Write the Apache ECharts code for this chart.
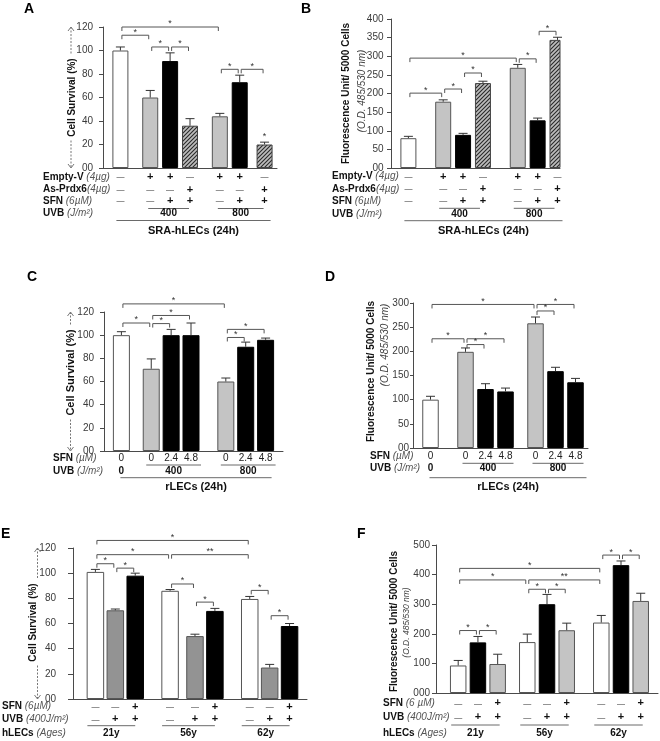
<!DOCTYPE html>
<html><head><meta charset="utf-8">
<script src="https://cdn.jsdelivr.net/npm/echarts@6/dist/echarts.min.js"></script>
<style>html,body{margin:0;padding:0;background:#fff}#c{width:660px;height:741px}</style>
</head><body><div id="c"></div>
<script>
const FONT = '"Liberation Sans", Arial, Helvetica, sans-serif';

// ================= DATA =================
// Panel A  (SRA-hLECs, cell survival %)
const aValues = [100, 60, 91, 36, 44, 73, 20];
const aErrors = [3, 6, 7, 6, 2.5, 6, 2];
const aEmptyV = ['-', '+', '+', '-', '+', '+', '-'];
const aAsPrdx6 = ['-', '-', '-', '+', '-', '-', '+'];
const aSFN = ['-', '-', '+', '+', '-', '+', '+'];
const aUVBLabels = ['400', '800'];
const aUVBBars = [[1, 3], [4, 6]];
const aBrackets = [[0, 4, 120, '*'], [0, 1, 113, '*'], [1, 2, 103, '*'], [2, 3, 103, '*'], [4, 5, 84, '*'], [5, 6, 84, '*']];
const aBarStars = [[6, '*']];
const aYTicks = ['00', '20', '40', '60', '80', '100', '120'];

// Panel B  (SRA-hLECs, fluorescence)
const bValues = [80, 178, 89, 228, 269, 128, 344];
const bErrors = [5, 5, 4, 5, 9, 6, 7];
const bEmptyV = ['-', '+', '+', '-', '+', '+', '-'];
const bAsPrdx6 = ['-', '-', '-', '+', '-', '-', '+'];
const bSFN = ['-', '-', '+', '+', '-', '+', '+'];
const bUVBLabels = ['400', '800'];
const bUVBBars = [[1, 3], [4, 6]];
const bBrackets = [[0, 4, 295, '*'], [0, 1, 201, '*'], [1, 2, 212, '*'], [2, 3, 255, '*'], [4, 5, 293, '*'], [5, 6, 367, '*']];
const bYTicks = ['00', '50', '100', '150', '200', '250', '300', '350', '400'];

// Panel C  (rLECs, cell survival %)
const cValues = [100, 71, 100, 100, 60, 90, 96];
const cErrors = [3, 8.5, 5, 10.5, 3, 4, 1.5];
const cSFN = ['0', '0', '2.4', '4.8', '0', '2.4', '4.8'];
const cUVBLabels = ['0', '400', '800'];
const cUVBBars = [[0, 0], [1, 3], [4, 6]];
const cBrackets = [[0, 4, 127, '*'], [0, 1, 110.5, '*'], [1, 3, 117, '*'], [1, 2, 110, '*'], [4, 6, 105, '*'], [4, 5, 98, '*']];
const cYTicks = ['00', '20', '40', '60', '80', '100', '120'];

// Panel D  (rLECs, fluorescence)
const dValues = [100, 199, 122, 117, 258, 159, 136];
const dErrors = [7, 8, 11, 7, 13, 8, 8];
const dSFN = ['0', '0', '2.4', '4.8', '0', '2.4', '4.8'];
const dUVBLabels = ['0', '400', '800'];
const dUVBBars = [[0, 0], [1, 3], [4, 6]];
const dBrackets = [[0, 4, 297, '*'], [0, 1, 226, '*'], [1, 3, 226, '*'], [1, 2, 214, '*'], [4, 6, 297, '*'], [4, 5, 283.5, '*']];
const dYTicks = ['00', '50', '100', '150', '200', '250', '300'];

// Panel E  (hLECs by age, cell survival %)
const eValues = [101, 70.5, 98, 86, 50, 70, 79.5, 25, 58];
const eErrors = [2, 1, 2, 1, 1.5, 2, 2, 2.5, 2];
const eSFN = ['-', '-', '+', '-', '-', '+', '-', '-', '+'];
const eUVB = ['-', '+', '+', '-', '+', '+', '-', '+', '+'];
const eAges = ['21y', '56y', '62y'];
const eAgeBars = [[0, 2], [3, 5], [6, 8]];
const eBrackets = [[0, 6, 126, '*'], [0, 3, 114.7, '*'], [3, 6, 114.7, '**'], [0, 1, 107.5, '*'], [1, 2, 104, '*'], [3, 4, 91.4, '*'], [4, 5, 77, '*'], [6, 7, 86.3, '*'], [7, 8, 66.2, '*']];
const eYTicks = ['00', '20', '40', '60', '80', '100', '120'];

// Panel F  (hLECs by age, fluorescence)
const fValues = [93, 171, 98, 172, 300, 212, 238, 432, 311];
const fErrors = [17, 20, 33, 27, 33, 24, 24, 14, 26];
const fSFN = ['-', '-', '+', '-', '-', '+', '-', '-', '+'];
const fUVB = ['-', '+', '+', '-', '+', '+', '-', '+', '+'];
const fAges = ['21y', '56y', '62y'];
const fAgeBars = [[0, 2], [3, 5], [6, 8]];
const fBrackets = [[0, 6, 421, '*'], [0, 3, 382, '*'], [3, 6, 382, '**'], [3, 4, 350.5, '*'], [4, 5, 350.5, '*'], [0, 1, 211, '*'], [1, 2, 211, '*'], [6, 7, 466, '*'], [7, 8, 466, '*']];
const fYTicks = ['000', '100', '200', '300', '400', '500'];

// ================= STYLE / LAYOUT =================
const hc = document.createElement('canvas'); hc.width = 4; hc.height = 4;
(function () {
  const g = hc.getContext('2d');
  g.fillStyle = '#bdbdbd'; g.fillRect(0, 0, 4, 4);
  g.strokeStyle = '#2a2a2a'; g.lineWidth = 1.1; g.beginPath();
  g.moveTo(-1, 5); g.lineTo(5, -1); g.moveTo(-1, 1); g.lineTo(1, -1); g.moveTo(3, 5); g.lineTo(5, 3);
  g.stroke();
})();
const FILLS = {
  white: { color: '#ffffff', borderColor: '#555', borderWidth: 1 },
  light: { color: '#c4c4c4', borderColor: '#555', borderWidth: 1 },
  dark: { color: '#939393', borderColor: '#555', borderWidth: 1 },
  black: { color: '#000000', borderColor: '#000', borderWidth: 1 },
  hatch: { color: { image: hc, repeat: 'repeat' }, borderColor: '#444', borderWidth: 1 }
};
const fluoTitle = (x1, y1, x2, y2, s2) => [
  { text: 'Fluorescence Unit/ 5000 Cells', x: x1, y: y1, bold: true, size: 10 },
  { text: '(O.D. 485/530 nm)', x: x2, y: y2, italic: true, size: s2 }
];

const panels = [
  {
    letter: { text: 'A', x: 24, y: 2 },
    grid: { left: 103, top: 27, width: 174, height: 141 },
    nSlots: 35, slots: [3, 9, 13, 17, 23, 27, 32], barWidth: 16,
    values: aValues, errors: aErrors, fills: ['white', 'light', 'black', 'hatch', 'light', 'black', 'hatch'],
    yMax: 120, yStep: 20, yTicks: aYTicks, labelMargin: 10, tickLen: 4,
    brackets: aBrackets, barStars: aBarStars, rowLabelX: 43,
    rows: [
      { label: ['Empty-V', '(4µg)'], dy: 9, cells: aEmptyV },
      { label: ['As-Prdx6', '(4µg)'], tight: true, dy: 21.5, cells: aAsPrdx6 },
      { label: ['SFN', '(6µM)'], dy: 33, cells: aSFN },
      { label: ['UVB', '(J/m²)'], dy: 45.5 }
    ],
    groups: { labels: aUVBLabels, bars: aUVBBars, lineDy: 40.5, labelDy: 45.5, extL: 2, extR: -1 },
    footer: { text: 'SRA-hLECs (24h)', lineDy: 52.5, labelDy: 62.5, extL: 4, extR: 6 },
    yTitle: [{ text: 'Cell Survival (%)', x: 72, y: 97.5, bold: true, size: 10 }],
    arrow: { x: 71, cy: 97.5, half: 43 }
  },
  {
    letter: { text: 'B', x: 301, y: 2 },
    grid: { left: 391, top: 19, width: 169, height: 149 },
    nSlots: 34, slots: [3, 10, 14, 18, 25, 29, 33], barWidth: 16,
    values: bValues, errors: bErrors, fills: ['white', 'light', 'black', 'hatch', 'light', 'black', 'hatch'],
    yMax: 400, yStep: 50, yTicks: bYTicks, labelMargin: 7.5, tickLen: 4,
    brackets: bBrackets, barStars: [], rowLabelX: 332,
    rows: [
      { label: ['Empty-V', '(4µg)'], dy: 8.7, cells: bEmptyV },
      { label: ['As-Prdx6', '(4µg)'], tight: true, dy: 21.2, cells: bAsPrdx6 },
      { label: ['SFN', '(6µM)'], dy: 33.2, cells: bSFN },
      { label: ['UVB', '(J/m²)'], dy: 46 }
    ],
    groups: { labels: bUVBLabels, bars: bUVBBars, lineDy: 40.3, labelDy: 46, extL: 4, extR: -3 },
    footer: { text: 'SRA-hLECs (24h)', lineDy: 52.7, labelDy: 63, extL: 4, extR: 5 },
    yTitle: fluoTitle(346, 93.5, 362, 91, 10)
  },
  {
    letter: { text: 'C', x: 27, y: 270.5 },
    grid: { left: 104, top: 312, width: 179, height: 139 },
    nSlots: 36, slots: [3, 9, 13, 17, 24, 28, 32], barWidth: 17,
    values: cValues, errors: cErrors, fills: ['white', 'light', 'black', 'black', 'light', 'black', 'black'],
    yMax: 120, yStep: 20, yTicks: cYTicks, labelMargin: 10, tickLen: 4,
    brackets: cBrackets, barStars: [], rowLabelX: 53,
    rows: [
      { label: ['SFN', '(µM)'], dy: 6.8, cells: cSFN },
      { label: ['UVB', '(J/m²)'], dy: 19.8 }
    ],
    groups: { labels: cUVBLabels, bars: cUVBBars, lineDy: 14, labelDy: 19.8, extL: 5, extR: 10 },
    footer: { text: 'rLECs (24h)', lineDy: 26.7, labelDy: 35.7, extL: 1, extR: 6 },
    yTitle: [{ text: 'Cell Survival (%)', x: 71, y: 372.5, bold: true, size: 11 }],
    arrow: { x: 70.5, cy: 372.5, half: 47 }
  },
  {
    letter: { text: 'D', x: 325, y: 270.5 },
    grid: { left: 413, top: 303, width: 175, height: 145 },
    nSlots: 35, slots: [3, 10, 14, 18, 24, 28, 32], barWidth: 16.5,
    values: dValues, errors: dErrors, fills: ['white', 'light', 'black', 'black', 'light', 'black', 'black'],
    yMax: 300, yStep: 50, yTicks: dYTicks, labelMargin: 4, tickLen: 3,
    brackets: dBrackets, barStars: [], rowLabelX: 370,
    rows: [
      { label: ['SFN', '(µM)'], dy: 8.7, cells: dSFN },
      { label: ['UVB', '(J/m²)'], dy: 20.3 }
    ],
    groups: { labels: dUVBLabels, bars: dUVBBars, lineDy: 15.3, labelDy: 20.3, extL: 3, extR: 8 },
    footer: { text: 'rLECs (24h)', lineDy: 29.7, labelDy: 39.3, extL: 1, extR: 11 },
    yTitle: fluoTitle(371.7, 371.5, 385, 345, 10)
  },
  {
    letter: { text: 'E', x: 1, y: 527 },
    grid: { left: 73, top: 548, width: 234, height: 151 },
    nSlots: 47, slots: [4, 8, 12, 19, 24, 28, 35, 39, 43], barWidth: 17.5,
    values: eValues, errors: eErrors, fills: ['white', 'dark', 'black', 'white', 'dark', 'black', 'white', 'dark', 'black'],
    yMax: 120, yStep: 20, yTicks: eYTicks, labelMargin: 17, tickLen: 5,
    brackets: eBrackets, barStars: [], rowLabelX: 2,
    rows: [
      { label: ['SFN', '(6µM)'], dy: 7.7, cells: eSFN },
      { label: ['UVB', '(400J/m²)'], dy: 20.3, cells: eUVB },
      { label: ['hLECs', '(Ages)'], dy: 34.3 }
    ],
    groups: { labels: eAges, bars: eAgeBars, lineDy: 26.7, labelDy: 34.3, extL: 8, extR: 0 },
    yTitle: [{ text: 'Cell Survival (%)', x: 33, y: 622.5, bold: true, size: 10 }],
    arrow: { x: 37.5, cy: 622.5, half: 43 }
  },
  {
    letter: { text: 'F', x: 357, y: 527 },
    grid: { left: 436, top: 545, width: 222, height: 148 },
    nSlots: 45, slots: [4, 8, 12, 18, 22, 26, 33, 37, 41], barWidth: 16.5,
    values: fValues, errors: fErrors, fills: ['white', 'black', 'light', 'white', 'black', 'light', 'white', 'black', 'light'],
    yMax: 500, yStep: 100, yTicks: fYTicks, labelMargin: 6, tickLen: 4,
    brackets: fBrackets, barStars: [], rowLabelX: 383,
    rows: [
      { label: ['SFN', '(6 µM)'], dy: 10.3, cells: fSFN },
      { label: ['UVB', '(400J/m²)'], dy: 24.3, cells: fUVB },
      { label: ['hLECs', '(Ages)'], dy: 40.3 }
    ],
    groups: { labels: fAges, bars: fAgeBars, lineDy: 32, labelDy: 40.3, extL: 7, extR: 2 },
    yTitle: fluoTitle(394.3, 621.5, 406.7, 622.5, 8.5)
  }
];

// ================= BUILD =================
const option = { animation: false, backgroundColor: '#fff', grid: [], xAxis: [], yAxis: [], series: [] };

function annot(P) {
  return function (params, api) {
    const X = i => api.coord([P.slots[i], 0])[0];
    const y0 = api.coord([0, 0])[1];
    const yT = api.coord([0, P.yMax])[1];
    const ch = [];
    const T = (x, y, text, o) => ch.push({ type: 'text', x: x, y: y, rotation: (o && o.rot) || 0, silent: true,
      style: Object.assign({ text: text, fill: '#111', fontSize: 10, fontFamily: FONT, align: 'center', verticalAlign: 'middle' }, o || {}) });
    const L = (x1, y1, x2, y2, o) => ch.push({ type: 'line', silent: true, shape: { x1: x1, y1: y1, x2: x2, y2: y2 },
      style: Object.assign({ stroke: '#6a6a6a', lineWidth: 1 }, o || {}) });

    // panel letter
    T(P.letter.x, P.letter.y, P.letter.text, { fontSize: 14, fontWeight: 'bold', align: 'left', verticalAlign: 'top', fill: '#000' });

    // y titles
    P.yTitle.forEach(t => T(t.x, t.y, t.text, { rot: Math.PI / 2, fontSize: t.size, fontWeight: t.bold ? 'bold' : 'normal',
      fontStyle: t.italic ? 'italic' : 'normal', fill: t.italic ? '#444' : '#111' }));
    if (P.arrow) {
      const a = P.arrow, ds = { stroke: '#777', lineWidth: 1, lineDash: [2, 1.5] };
      L(a.x, yT, a.x, a.cy - a.half, ds);
      L(a.x, a.cy + a.half, a.x, y0, ds);
      ch.push({ type: 'polyline', silent: true, shape: { points: [[a.x - 3, yT + 4], [a.x, yT], [a.x + 3, yT + 4]] }, style: { stroke: '#777', lineWidth: 1, fill: 'none' } });
      ch.push({ type: 'polyline', silent: true, shape: { points: [[a.x - 3, y0 - 4], [a.x, y0], [a.x + 3, y0 - 4]] }, style: { stroke: '#777', lineWidth: 1, fill: 'none' } });
    }

    // treatment rows
    P.rows.forEach(r => {
      const y = y0 + r.dy;
      T(P.rowLabelX, y, '{b|' + r.label[0] + '}' + (r.tight ? '' : ' ') + '{i|' + r.label[1] + '}', {
        align: 'left', rich: {
          b: { fontWeight: 'bold', fontSize: 10, fontFamily: FONT, fill: '#111' },
          i: { fontStyle: 'italic', fontSize: 10, fontFamily: FONT, fill: '#555' }
        }
      });
      if (r.cells) r.cells.forEach((c, i) => {
        if (c === '-') T(X(i), y, '—', { fontSize: 8, fill: '#222' });
        else if (c === '+') T(X(i), y, '+', { fontSize: 11, fontWeight: 'bold', fill: '#111' });
        else T(X(i), y, c, { fontSize: 10, fill: '#222' });
      });
    });

    // dose / age groups
    const G = P.groups;
    G.labels.forEach((lab, k) => {
      const xa = X(G.bars[k][0]), xb = X(G.bars[k][1]);
      const x1 = xa - G.extL, x2 = xb + G.extR;
      if (G.bars[k][0] !== G.bars[k][1]) L(x1, y0 + G.lineDy, x2, y0 + G.lineDy);
      T(G.bars[k][0] !== G.bars[k][1] ? (x1 + x2) / 2 : xa, y0 + G.labelDy, lab, { fontWeight: 'bold', fontSize: 10 });
    });

    // footer (cell line)
    if (P.footer) {
      const F = P.footer;
      const x1 = X(0) - F.extL, x2 = X(P.values.length - 1) + F.extR;
      L(x1, y0 + F.lineDy, x2, y0 + F.lineDy);
      T((x1 + x2) / 2, y0 + F.labelDy, F.text, { fontWeight: 'bold', fontSize: 11 });
    }

    // stars above single bars
    P.barStars.forEach(s => {
      const p = api.coord([P.slots[s[0]], P.values[s[0]] + P.errors[s[0]]]);
      T(p[0], p[1] - 6, s[1], { fontSize: 9, fill: '#333' });
    });
    return { type: 'group', children: ch };
  };
}

panels.forEach((P, k) => {
  option.grid.push({ left: P.grid.left, top: P.grid.top, width: P.grid.width, height: P.grid.height, containLabel: false, outerBoundsMode: 'none' });
  option.xAxis.push({
    type: 'category', gridIndex: k, boundaryGap: true,
    data: Array.from({ length: P.nSlots }, () => ''),
    axisTick: { show: false }, axisLabel: { show: false },
    axisLine: { show: true, lineStyle: { color: '#4a4a4a', width: 1 } }, splitLine: { show: false }
  });
  option.yAxis.push({
    type: 'value', gridIndex: k, min: 0, max: P.yMax, interval: P.yStep,
    splitLine: { show: false },
    axisLine: { show: true, lineStyle: { color: '#4a4a4a', width: 1 } },
    axisTick: { show: true, length: P.tickLen, lineStyle: { color: '#4a4a4a' } },
    axisLabel: { margin: P.labelMargin, color: '#3a3a3a', fontSize: 10, fontFamily: FONT,
      formatter: v => P.yTicks[Math.round(v / P.yStep)] }
  });
  option.series.push({
    type: 'bar', xAxisIndex: k, yAxisIndex: k, barWidth: P.barWidth, silent: true, z: 2,
    data: P.values.map((v, i) => ({ value: [P.slots[i], v], itemStyle: FILLS[P.fills[i]] }))
  });
  option.series.push({
    type: 'custom', xAxisIndex: k, yAxisIndex: k, silent: true, z: 3, clip: false,
    data: P.values.map((v, i) => [P.slots[i], v, v + P.errors[i]]),
    renderItem: (params, api) => {
      const b = api.coord([api.value(0), api.value(1)]);
      const t = api.coord([api.value(0), api.value(2)]);
      const s = { stroke: '#333', lineWidth: 1 };
      return { type: 'group', children: [
        { type: 'line', shape: { x1: b[0], y1: b[1], x2: b[0], y2: t[1] }, style: s },
        { type: 'line', shape: { x1: b[0] - 4.5, y1: t[1], x2: b[0] + 4.5, y2: t[1] }, style: s }
      ] };
    }
  });
  option.series.push({
    type: 'custom', xAxisIndex: k, yAxisIndex: k, silent: true, z: 4, clip: false,
    data: P.brackets.map(b => [P.slots[b[0]], b[2], P.slots[b[1]]]),
    renderItem: (params, api) => {
      const br = P.brackets[params.dataIndex];
      const p1 = api.coord([api.value(0), api.value(1)]);
      const p2 = api.coord([api.value(2), api.value(1)]);
      const x1 = p1[0] + 1.5, x2 = p2[0] - 1.5, y = p1[1];
      return { type: 'group', children: [
        { type: 'polyline', shape: { points: [[x1, y + 4], [x1, y], [x2, y], [x2, y + 4]] }, style: { stroke: '#555', lineWidth: 1, fill: 'none' } },
        { type: 'text', x: (x1 + x2) / 2, y: y - 3, style: { text: br[3], fill: '#333', fontSize: 9, fontFamily: FONT, align: 'center', verticalAlign: 'middle' } }
      ] };
    }
  });
  option.series.push({
    type: 'custom', xAxisIndex: k, yAxisIndex: k, silent: true, z: 5, clip: false,
    data: [[0, 0]], renderItem: annot(P)
  });
});

const chart = echarts.init(document.getElementById('c'), null, { renderer: 'canvas', width: 660, height: 741 });
chart.setOption(option);
</script>
</body></html>
